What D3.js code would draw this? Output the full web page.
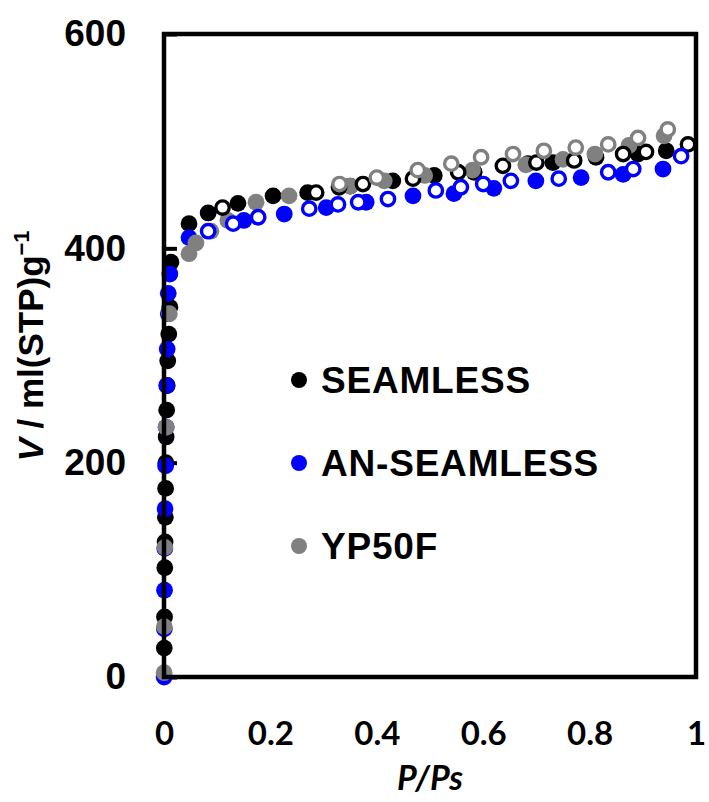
<!DOCTYPE html>
<html><head><meta charset="utf-8">
<script src="https://cdn.jsdelivr.net/npm/d3@7"></script>
<style>body{margin:0;background:#fff}svg{display:block}</style>
</head><body>
<script>
// ---- data: [P/Ps, V] ----
const seamlessAds = [[0.0005,27],[0.001,56],[0.0015,102],[0.002,126],[0.0025,149],[0.003,176],[0.0035,200],[0.004,224],[0.005,249],[0.006,272],[0.007,295],[0.009,320],[0.011,345],[0.013,387],[0.047,423],[0.083,433],[0.139,442],[0.205,449],[0.27,452],[0.35,458],[0.43,463],[0.508,468],[0.583,471],[0.684,479],[0.731,480],[0.812,485],[0.891,488],[0.944,491]];
const seamlessDes = [[0.985,497],[0.906,490],[0.863,488],[0.771,482],[0.70,480],[0.637,477],[0.553,471],[0.468,465],[0.374,460],[0.329,457],[0.286,452],[0.11,438]];
const anAds = [[0.0003,0],[0.0006,45],[0.001,81],[0.0015,120],[0.002,157],[0.003,197],[0.004,233],[0.005,272],[0.006,306],[0.008,339],[0.008,358],[0.011,376],[0.047,410],[0.15,426],[0.226,432],[0.305,438],[0.38,443],[0.468,449],[0.545,451],[0.62,456],[0.699,463],[0.784,466],[0.863,469],[0.938,474]];
const anDes = [[0.972,486],[0.882,474],[0.835,471],[0.742,465],[0.652,463],[0.60,460],[0.558,457],[0.511,454],[0.421,446],[0.365,443],[0.327,441],[0.273,437],[0.177,429],[0.13,423],[0.083,416]];
const ypAds = [[0.0003,4],[0.0006,47],[0.0015,121],[0.004,233],[0.01,339],[0.047,395],[0.06,405],[0.088,416],[0.12,426],[0.173,443],[0.235,449],[0.35,458],[0.414,463],[0.49,468],[0.58,473],[0.68,478],[0.75,483],[0.81,488],[0.874,496],[0.94,505]];
const ypDes = [[0.947,511],[0.891,503],[0.835,497],[0.774,494],[0.714,491],[0.656,488],[0.596,485],[0.54,479],[0.477,473],[0.40,466],[0.33,460]];
const xTicks = [0,0.2,0.4,0.6,0.8,1];
const yTicks = [0,200,400,600];
const legendNames = ["SEAMLESS","AN-SEAMLESS","YP50F"];
const colors = ["#000000","#0000ff","#808080"];

const W=709,H=802;
const svg=d3.select("body").append("svg").attr("width",W).attr("height",H);
const x=d3.scaleLinear().domain([0,1]).range([164,696]);
const y=d3.scaleLinear().domain([0,600]).range([677,34]);

// axes
const ya=svg.append("g").attr("transform","translate(164,0)")
  .call(d3.axisLeft(y).tickValues(yTicks).tickSize(-13).tickPadding(38));
ya.select(".domain").remove();
ya.selectAll("line").attr("stroke","#000").attr("stroke-width",4);
ya.selectAll("text").attr("font-family","'Liberation Sans',Arial,sans-serif").attr("font-weight","bold").attr("font-size",37).attr("fill","#000");

const xa=svg.append("g").attr("transform","translate(0,677)")
  .call(d3.axisBottom(x).tickValues(xTicks).tickSize(0).tickFormat(d=>d===0?"0":d===1?"1":d3.format(".1f")(d)));
xa.select(".domain").remove();
xa.selectAll("text").attr("y",68).attr("dy",0).attr("font-family","Lato,'Open Sans',sans-serif").attr("font-weight","bold").attr("font-size",33).attr("fill","#000");

// series
const series=[[seamlessAds,0,true],[anAds,1,true],[ypAds,2,true],[seamlessDes,0,false],[anDes,1,false],[ypDes,2,false]];
series.forEach(([data,ci,filled])=>{
  svg.append("g").selectAll("circle").data(data).join("circle")
    .attr("cx",d=>x(d[0])).attr("cy",d=>y(d[1]))
    .attr("r",filled?8.4:6.7)
    .attr("fill",filled?colors[ci]:"#fff")
    .attr("stroke",filled?"none":colors[ci])
    .attr("stroke-width",filled?0:3.4);
});

// frame
svg.append("rect").attr("x",164).attr("y",34).attr("width",532).attr("height",643)
  .attr("fill","none").attr("stroke","#000").attr("stroke-width",4.5);

// legend
const lg=svg.append("g");
legendNames.forEach((n,i)=>{
  const cy=380+i*83;
  lg.append("circle").attr("cx",299).attr("cy",cy).attr("r",8).attr("fill",colors[i]);
  lg.append("text").attr("x",321).attr("y",cy+13).text(n)
    .attr("font-family","'Liberation Sans',Arial,sans-serif").attr("font-weight","bold").attr("font-size",37).attr("letter-spacing",0.8).attr("fill","#000");
});

// axis titles
svg.append("text").attr("x",430).attr("y",790).attr("text-anchor","middle")
  .attr("font-family","Lato,'Open Sans',sans-serif").attr("font-style","italic").attr("font-weight","bold").attr("font-size",34).attr("fill","#000")
  .text("P/Ps");
const yt=svg.append("text").attr("transform","translate(43,346) rotate(-90)").attr("text-anchor","middle")
  .attr("font-family","'Liberation Sans',Arial,sans-serif").attr("font-weight","bold").attr("font-size",35).attr("fill","#000");
yt.append("tspan").attr("font-style","italic").text("V");
yt.append("tspan").text(" / ml(STP)g");
yt.append("tspan").attr("font-size",22).attr("dy",-14).text("−1");
</script>
</body></html>
